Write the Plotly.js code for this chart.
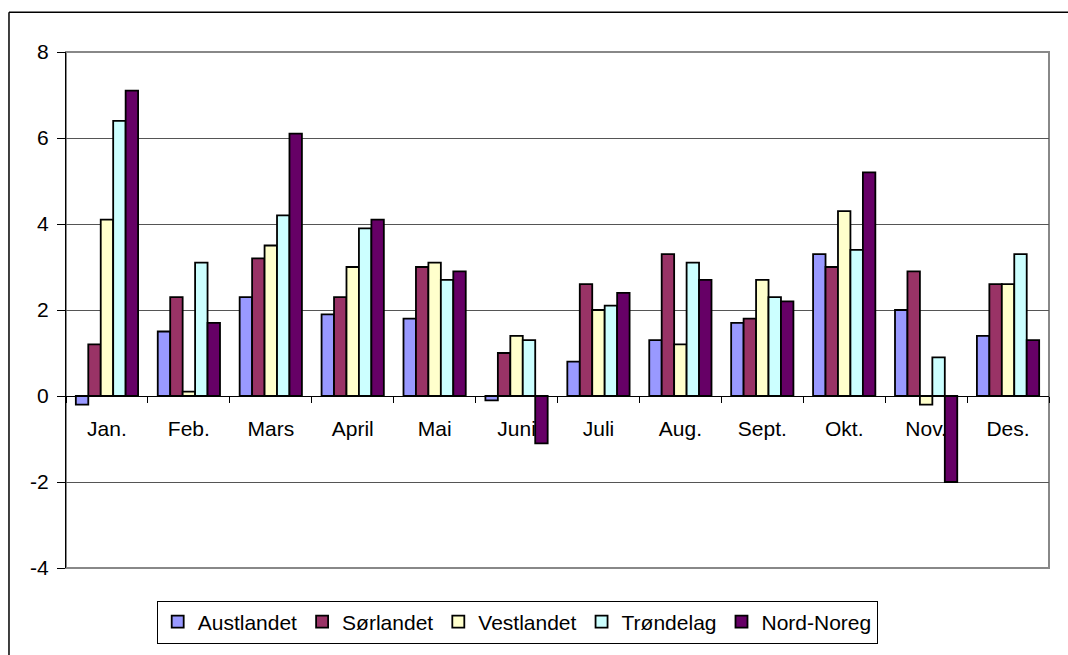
<!DOCTYPE html>
<html>
<head>
<meta charset="utf-8">
<script src="https://cdn.plot.ly/plotly-3.0.1.min.js"></script>
<style>html,body{margin:0;padding:0;background:#fff;}#chart{width:1068px;height:655px;}</style>
</head>
<body>
<div id="chart"></div>
<script>
const months = ["Jan.", "Feb.", "Mars", "April", "Mai", "Juni", "Juli", "Aug.", "Sept.", "Okt.", "Nov.", "Des."];
const seriesNames = ["Austlandet", "Sørlandet", "Vestlandet", "Trøndelag", "Nord-Noreg"];
const austlandet = [-0.2, 1.5, 2.3, 1.9, 1.8, -0.1, 0.8, 1.3, 1.7, 3.3, 2.0, 1.4];
const sorlandet  = [1.2, 2.3, 3.2, 2.3, 3.0, 1.0, 2.6, 3.3, 1.8, 3.0, 2.9, 2.6];
const vestlandet = [4.1, 0.1, 3.5, 3.0, 3.1, 1.4, 2.0, 1.2, 2.7, 4.3, -0.2, 2.6];
const trondelag  = [6.4, 3.1, 4.2, 3.9, 2.7, 1.3, 2.1, 3.1, 2.3, 3.4, 0.9, 3.3];
const nordNoreg  = [7.1, 1.7, 6.1, 4.1, 2.9, -1.1, 2.4, 2.7, 2.2, 5.2, -2.0, 1.3];
const yTicks = [-4, -2, 0, 2, 4, 6, 8];

const values = [austlandet, sorlandet, vestlandet, trondelag, nordNoreg];
const colors = ["#9999FF", "#993366", "#FFFFCC", "#CCFFFF", "#660066"];

const traces = seriesNames.map((name, i) => ({
  type: "bar",
  name: name,
  x: months,
  y: values[i],
  marker: { color: colors[i], line: { color: "#000000", width: 1.8 } },
  hoverinfo: "x+y+name"
}));

const font = { family: "Liberation Sans, Arial, sans-serif", size: 21, color: "#000" };

const layout = {
  width: 1068,
  height: 655,
  margin: { l: 66, r: 19, t: 52, b: 84 },
  paper_bgcolor: "#ffffff",
  plot_bgcolor: "#ffffff",
  font: font,
  barmode: "group",
  bargap: 0.24,
  bargroupgap: 0,
  showlegend: true,
  legend: {
    orientation: "h",
    x: 0.459, xanchor: "center",
    y: -0.063, yanchor: "top",
    bordercolor: "#000", borderwidth: 1,
    font: { family: "Liberation Sans, Arial, sans-serif", size: 21, color: "#000" },
    traceorder: "normal",
    itemwidth: 30,
    tracegroupgap: 0
  },
  xaxis: {
    type: "category",
    anchor: "free",
    position: 4 / 12,
    showline: true, linecolor: "#000", linewidth: 1,
    ticks: "outside", ticklen: 6, tickcolor: "#000", tickwidth: 1,
    tickson: "boundaries",
    showgrid: false,
    ticklabelstandoff: 14,
    tickfont: font,
    fixedrange: true
  },
  yaxis: {
    range: [-4, 8],
    tickvals: yTicks,
    ticktext: yTicks.map(String),
    showline: true, linecolor: "#000", linewidth: 1,
    ticks: "outside", ticklen: 8, tickcolor: "#000",
    showgrid: true, gridcolor: "#555", gridwidth: 1,
    zeroline: false,
    tickfont: font,
    ticklabelstandoff: 4,
    fixedrange: true
  },
  shapes: [
    { type: "rect", xref: "paper", yref: "paper", x0: 0, x1: 1, y0: 0, y1: 1,
      line: { color: "#888", width: 2 }, layer: "below" },
    { type: "line", xref: "paper", yref: "paper", x0: -0.058, x1: 1.1, y0: 1.0771, y1: 1.0771,
      line: { color: "#000", width: 1.5 } },
    { type: "line", xref: "paper", yref: "paper", x0: -0.058, x1: -0.058, y0: 1.0771, y1: -0.3,
      line: { color: "#000", width: 1.5 } }
  ]
};

Plotly.newPlot("chart", traces, layout, { displayModeBar: false });
</script>
</body>
</html>
